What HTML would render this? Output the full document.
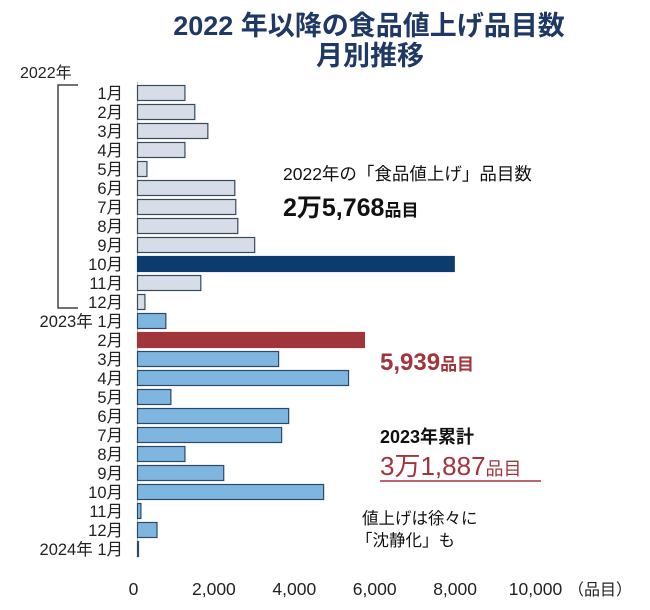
<!DOCTYPE html>
<html><head><meta charset="utf-8">
<style>
body{margin:0;background:#fff;}
svg text{font-family:"Liberation Sans","Noto Sans CJK JP",sans-serif;}
</style></head>
<body>
<svg id="chart" width="650" height="605" viewBox="0 0 650 605" xmlns="http://www.w3.org/2000/svg">
<text x="369" y="35" text-anchor="middle" font-size="27" font-weight="bold" fill="#1f3864">2022 年以降の食品値上げ品目数</text>
<text x="370" y="65" text-anchor="middle" font-size="27" font-weight="bold" fill="#1f3864">月別推移</text>
<text x="20" y="78" font-size="16" fill="#222">2022年</text>
<path d="M78 85 H58 V308 H78" fill="none" stroke="#444" stroke-width="1.5"/>
<g id="bars"></g>
<g id="xticks"></g>
<text x="568" y="595" font-size="16" fill="#222">（品目）</text>
<text x="283" y="180" font-size="17.5" fill="#111">2022年の「食品値上げ」品目数</text>
<text x="283" y="216" font-size="25" font-weight="bold" fill="#111">2万5,768<tspan font-size="17">品目</tspan></text>
<text x="380" y="370" font-size="24" font-weight="bold" fill="#a0353b">5,939<tspan font-size="17">品目</tspan></text>
<text x="380" y="443" font-size="18" font-weight="bold" fill="#111">2023年累計</text>
<text x="380" y="475" font-size="26" fill="#a0353b">3万1,887<tspan font-size="18">品目</tspan></text>
<line x1="380" y1="481" x2="541" y2="481" stroke="#a0353b" stroke-width="1.5"/>
<text x="362" y="524" font-size="16.5" fill="#111">値上げは徐々に</text>
<text x="356" y="546" font-size="16.5" fill="#111">「沈静化」も</text>
</svg>
<script>
const categories=["1月","2月","3月","4月","5月","6月","7月","8月","9月","10月","11月","12月","2023年 1月","2月","3月","4月","5月","6月","7月","8月","9月","10月","11月","12月","2024年 1月"];
const values=[1180,1425,1750,1180,235,2420,2445,2495,2915,7880,1575,185,705,5645,3510,5250,830,3760,3585,1180,2145,4630,85,485,15];
const tickValues=[0,2000,4000,6000,8000,10000];
const tickLabels=["0","2,000","4,000","6,000","8,000","10,000"];
const NS="http://www.w3.org/2000/svg";
const x0=137.5, scale=0.0402;
function xPos(v){return x0+v*scale;}
function yPos(i){return 93+i*19;}
const gb=document.getElementById('bars');
const ax=document.createElementNS(NS,'line');
ax.setAttribute('x1',x0);ax.setAttribute('x2',x0);ax.setAttribute('y1',82);ax.setAttribute('y2',556);
ax.setAttribute('stroke','#bbb');


gb.appendChild(ax);
categories.forEach((c,i)=>{
  const y=yPos(i);
  let fill='#d6dde8',stroke='#3a4a5c';
  if(i>=12){fill='#7eb6e0';stroke='#2a4a6c';}
  if(i===9){fill='#0c3c6e';stroke='#0c3c6e';}
  if(i===13){fill='#a0353b';stroke='#a0353b';}
  const r=document.createElementNS(NS,'rect');
  r.setAttribute('x',x0);r.setAttribute('y',y-7.5);
  r.setAttribute('width',Math.max(1,xPos(values[i])-x0));r.setAttribute('height',15);
  r.setAttribute('fill',fill);r.setAttribute('stroke',stroke);r.setAttribute('stroke-width',1.2);
  
  
  gb.appendChild(r);
  const t=document.createElementNS(NS,'text');
  t.setAttribute('x',123);t.setAttribute('y',y+6);t.setAttribute('text-anchor','end');
  t.setAttribute('font-size','16.5');t.setAttribute('fill','#222');
  t.textContent=c;
  
  
  gb.appendChild(t);
});
const gx=document.getElementById('xticks');
tickValues.forEach((v,i)=>{
  const t=document.createElementNS(NS,'text');
  t.setAttribute('x',xPos(v)-4);t.setAttribute('y',595);t.setAttribute('text-anchor','middle');
  t.setAttribute('font-size','17.5');t.setAttribute('fill','#222');
  t.textContent=tickLabels[i];
  
  
  gx.appendChild(t);
});
</script>
</body></html>
